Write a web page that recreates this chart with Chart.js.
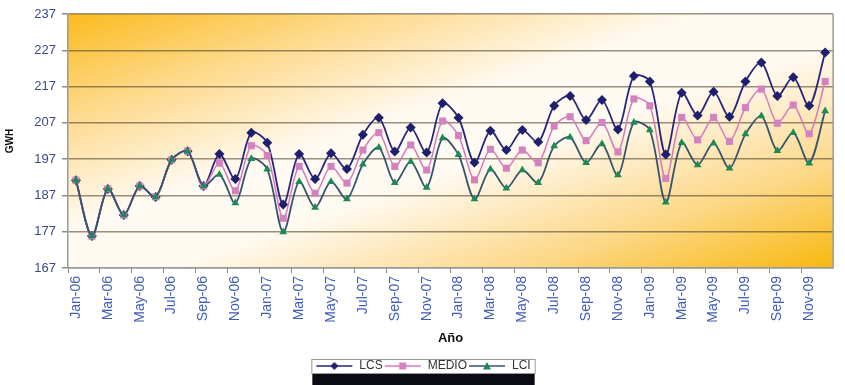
<!DOCTYPE html>
<html>
<head>
<meta charset="utf-8">
<script src="https://cdn.jsdelivr.net/npm/chart.js@4.4.1/dist/chart.umd.min.js"></script>
<style>
  html, body { margin: 0; padding: 0; background: #fff; }
  #wrap { position: relative; width: 845px; height: 385px; }
</style>
</head>
<body>
<div id="wrap"><canvas id="myChart" width="845" height="385"></canvas></div>
<script>
// Month labels (x axis)
var meses = ['Jan-06','Feb-06','Mar-06','Apr-06','May-06','Jun-06','Jul-06','Aug-06','Sep-06','Oct-06','Nov-06','Dec-06',
             'Jan-07','Feb-07','Mar-07','Apr-07','May-07','Jun-07','Jul-07','Aug-07','Sep-07','Oct-07','Nov-07','Dec-07',
             'Jan-08','Feb-08','Mar-08','Apr-08','May-08','Jun-08','Jul-08','Aug-08','Sep-08','Oct-08','Nov-08','Dec-08',
             'Jan-09','Feb-09','Mar-09','Apr-09','May-09','Jun-09','Jul-09','Aug-09','Sep-09','Oct-09','Nov-09','Dec-09'];

// y axis ticks
var yTicks = [167, 177, 187, 197, 207, 217, 227, 237];

// observed values Jan-06 .. Sep-06 (shared by the three series)
var historico = [191.2, 175.8, 188.8, 181.6, 189.6, 186.6, 196.8, 199.2, 189.6];

// forecast Oct-06 .. Dec-09
var lcsProy = [198.4, 191.5, 204.3, 201.5, 184.5, 198.4, 191.5, 198.6, 194.3, 203.7, 208.4, 199.1, 205.7, 198.8, 212.4,
               208.4, 196.1, 204.8, 199.5, 205.0, 201.7, 211.7, 214.4, 207.8, 213.3, 205.2, 219.9,
               218.4, 198.3, 215.3, 209.0, 215.6, 208.7, 218.4, 223.6, 214.4, 219.6, 211.7, 226.4];
var medioProy = [195.9, 188.3, 200.7, 198.0, 180.7, 195.0, 187.6, 195.0, 190.4, 199.5, 204.3, 195.0, 200.9, 194.0, 207.5,
                 203.5, 191.3, 199.7, 194.5, 199.5, 196.0, 206.1, 208.7, 202.1, 207.1, 199.0, 213.6,
                 211.7, 191.7, 208.5, 202.3, 208.5, 201.9, 211.2, 216.3, 206.9, 211.9, 204.0, 218.4];
var lciProy = [192.8, 184.9, 197.1, 194.2, 176.9, 190.8, 183.7, 190.8, 186.0, 195.6, 200.2, 190.5, 196.3, 189.2, 202.8,
               198.2, 186.0, 194.2, 189.0, 194.0, 190.5, 200.6, 203.0, 196.0, 201.2, 192.6, 207.1,
               205.0, 185.1, 201.5, 195.4, 201.4, 194.5, 203.9, 208.9, 199.3, 204.3, 195.9, 210.3];

var lcs = historico.concat(lcsProy);
var medio = historico.concat(medioProy);
var lci = historico.concat(lciProy);

// legend icon: short line with the marker in the middle
function legendIcon(lineColor, markerColor, shape) {
  var c = document.createElement('canvas');
  c.width = 38; c.height = 12;
  var g = c.getContext('2d');
  g.strokeStyle = lineColor; g.lineWidth = 1.5;
  g.beginPath(); g.moveTo(1, 6); g.lineTo(37, 6); g.stroke();
  g.fillStyle = markerColor;
  g.beginPath();
  if (shape === 'diamond') { g.moveTo(19, 2); g.lineTo(23, 6); g.lineTo(19, 10); g.lineTo(15, 6); }
  else if (shape === 'square') { g.rect(15.5, 2.5, 7, 7); }
  else { g.moveTo(19, 2); g.lineTo(23, 9.5); g.lineTo(15, 9.5); }
  g.closePath(); g.fill();
  return c;
}

var series = [
  { label: 'LCS', data: lcs, line: '#26267a', mark: '#1f1f6e', style: 'rectRot', r: 5, icon: 'diamond', order: 2, w: 1.8 },
  { label: 'MEDIO', data: medio, line: '#d679bd', mark: '#d382c0', style: 'rect', r: 5, icon: 'square', order: 1, w: 1.5 },
  { label: 'LCI', data: lci, line: '#35546e', mark: '#1d8a55', style: 'triangle', r: 4.5, icon: 'triangle', order: 0, w: 1.8 }
];

var plotDeco = {
  id: 'plotDeco',
  beforeDraw: function(chart) {
    var a = chart.chartArea, ctx = chart.ctx;
    var w = a.right - a.left, h = a.bottom - a.top;
    var k = 2 * w * h / (w * w + h * h);
    var grad = ctx.createLinearGradient(a.left, a.top, a.left + h * k, a.top + w * k);
    grad.addColorStop(0, '#fbbb1e');
    grad.addColorStop(0.2, '#fdd98a');
    grad.addColorStop(0.42, '#fffaf2');
    grad.addColorStop(0.56, '#fffaf2');
    grad.addColorStop(0.8, '#fcd785');
    grad.addColorStop(1, '#f8b80f');
    ctx.save();
    ctx.fillStyle = grad;
    ctx.fillRect(a.left, a.top, w, h);
    ctx.restore();
  },
  beforeDatasetsDraw: function(chart) {
    var a = chart.chartArea, ctx = chart.ctx;
    ctx.save();
    ctx.strokeStyle = '#a09a90';
    ctx.lineWidth = 1.5;
    ctx.beginPath();
    ctx.moveTo(a.right, a.top); ctx.lineTo(a.right, a.bottom);
    ctx.stroke();
    ctx.restore();
  },
  afterDraw: function(chart) {
    var lg = chart.legend, ctx = chart.ctx;
    if (!lg || !lg.legendHitBoxes.length) return;
    var hb = lg.legendHitBoxes;
    var x0 = hb[0].left - 4, x1 = hb[hb.length - 1].left + hb[hb.length - 1].width + 4;
    var y0 = hb[0].top - 1, y1 = hb[0].top + hb[0].height + 1;
    ctx.save();
    ctx.strokeStyle = '#9a9a9a';
    ctx.lineWidth = 1;
    ctx.strokeRect(x0 + 0.5, y0 + 0.5, x1 - x0, y1 - y0);
    ctx.fillStyle = '#0b0b14';
    ctx.fillRect(x0 + 1, y1 + 1, x1 - x0 - 1, 385 - y1);
    ctx.restore();
  }
};

var ctx = document.getElementById('myChart').getContext('2d');
var myChart = new Chart(ctx, {
  type: 'line',
  data: {
    labels: meses,
    datasets: series.map(function(s) {
      return {
        label: s.label,
        data: s.data,
        borderColor: s.line,
        borderWidth: s.w,
        backgroundColor: s.mark,
        pointBackgroundColor: s.mark,
        pointBorderColor: s.mark,
        pointBorderWidth: 0,
        pointStyle: s.style,
        pointRadius: s.r,
        tension: 0.3,
        fill: false,
        order: s.order
      };
    })
  },
  options: {
    responsive: false,
    animation: false,
    layout: { padding: { left: 4, right: 3, top: 14, bottom: 3 } },
    plugins: {
      tooltip: { enabled: false },
      legend: {
        position: 'bottom',
        labels: {
          usePointStyle: true,
          pointStyleWidth: 38,
          padding: 1,
          color: '#333',
          font: { family: 'Liberation Sans', size: 12 },
          generateLabels: function() {
            return series.map(function(s, i) {
              return {
                text: s.label,
                datasetIndex: i,
                pointStyle: legendIcon(s.line, s.mark, s.icon),
                fillStyle: s.mark,
                strokeStyle: s.line,
                lineWidth: 0,
                hidden: false,
                fontColor: '#333'
              };
            });
          }
        }
      }
    },
    scales: {
      x: {
        offset: true,
        afterFit: function(s) { s.height = 91; },
        title: { display: true, text: 'Año', color: '#111', font: { family: 'Liberation Sans', size: 13, weight: 'bold' }, padding: { top: 2, bottom: 13 } },
        grid: {
          offset: true,
          drawOnChartArea: false,
          tickLength: 5,
          tickColor: function(c) { return c.index % 2 === 0 ? '#8a8a8a' : 'rgba(0,0,0,0)'; }
        },
        border: { color: '#9a9a9a', width: 1.5 },
        ticks: {
          autoSkip: false,
          maxRotation: 90,
          minRotation: 90,
          padding: 3,
          color: '#3f5cb8',
          font: { family: 'Liberation Sans', size: 14 },
          callback: function(v, i) { return i % 2 === 0 ? meses[i] : ''; }
        }
      },
      y: {
        min: yTicks[0],
        max: yTicks[yTicks.length - 1],
        afterBuildTicks: function(axis) { axis.ticks = yTicks.map(function(v) { return { value: v }; }); },
        afterFit: function(s) { s.width = 64; },
        title: { display: true, text: 'GWH', color: '#111', font: { family: 'Liberation Sans', size: 10, weight: 'bold' }, padding: { top: 0, bottom: 0 } },
        grid: { color: 'rgba(85,72,45,0.6)', lineWidth: 1.5, tickLength: 6, tickColor: '#8a8a8a' },
        border: { color: '#9a9a9a', width: 1.5 },
        ticks: {
          padding: 6,
          color: '#3a4a8c',
          font: { family: 'Liberation Sans', size: 13 }
        }
      }
    }
  },
  plugins: [plotDeco]
});
</script>
</body>
</html>
